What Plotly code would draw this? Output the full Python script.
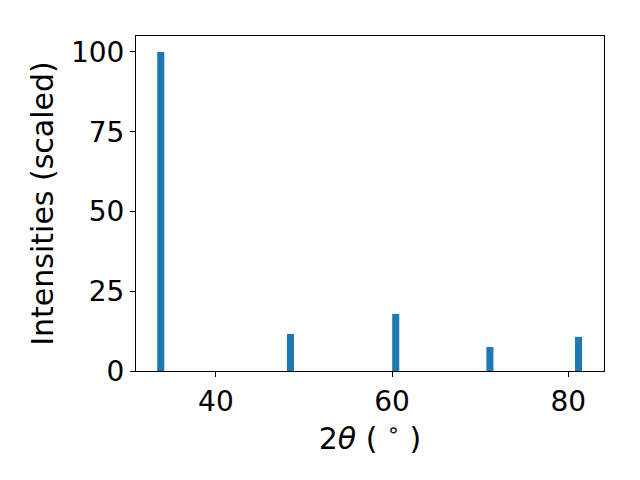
import plotly.graph_objects as go

two_theta = [33.74, 48.46, 60.41, 71.10, 81.16]
intensities = [100, 11.6, 17.9, 7.5, 10.7]
x_ticks = [40, 60, 80]
y_ticks = [0, 25, 50, 75, 100]

fig = go.Figure()
fig.add_trace(go.Bar(x=two_theta, y=intensities, width=0.8,
                     marker=dict(color="#1f77b4", line=dict(width=0))))

tick_font = dict(family="DejaVu Sans", size=28, color="black")
title_font = dict(family="DejaVu Sans", size=30, color="black")
axis_common = dict(showline=True, linecolor="black", linewidth=1.1, mirror=True,
                   showgrid=False, zeroline=False, ticks="outside", ticklen=5,
                   tickwidth=1.1, tickcolor="black", tickfont=tick_font)

# page body adds an 8px offset; margins compensate for it
fig.update_layout(
    width=640, height=480,
    margin=dict(l=128, r=44, t=28, b=117, autoexpand=False),
    paper_bgcolor="white", plot_bgcolor="white",
    showlegend=False,
    font=title_font,
    xaxis=dict(range=[30.93, 84.05], tickvals=x_ticks,
               title=dict(text="2<i>θ</i> ( <sup>∘</sup> )", font=title_font, standoff=0),
               **axis_common),
    yaxis=dict(range=[0, 105], tickvals=y_ticks,
               title=dict(text="Intensities (scaled)", font=title_font, standoff=8),
               **axis_common),
)

fig.write_html("out.html")
